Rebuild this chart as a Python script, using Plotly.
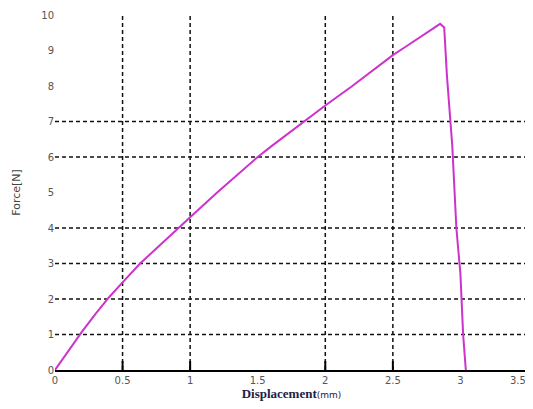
import plotly.graph_objects as go

# Curve data
displacement = [0, 0.1, 0.2, 0.3, 0.4, 0.5, 0.63, 0.8, 0.91, 1.0, 1.2, 1.4, 1.5, 1.6, 1.84, 2.0,
                2.2, 2.4, 2.5, 2.6, 2.7, 2.8, 2.85, 2.88, 2.9, 2.94, 2.97, 3.0, 3.02, 3.04]
force = [0, 0.55, 1.08, 1.58, 2.05, 2.47, 3.0, 3.6, 4.0, 4.3, 5.0, 5.68, 6.0, 6.3, 7.0, 7.45,
         8.0, 8.58, 8.87, 9.12, 9.38, 9.62, 9.75, 9.65, 8.3, 6.3, 4.0, 2.7, 1.0, 0]

x_ticks = [0, 0.5, 1, 1.5, 2, 2.5, 3, 3.5]
x_tick_labels = ["0", "0.5", "1", "1.5", "2", "2.5", "3", ""]
last_x_label = "3.5"
y_ticks = [0, 1, 2, 3, 4, 5, 6, 7, 8, 9, 10]
y_tick_labels = ["0", "1", "2", "3", "4", "5", "6", "7", "8", "9", "10"]

# Gridlines (and tick marks) visible in the reference
x_grid = [0.5, 1, 2, 2.5, 3.5]
y_grid = [1, 2, 3, 4, 6, 7]

fig = go.Figure()
fig.add_trace(go.Scatter(x=displacement, y=force, mode="lines",
                         line=dict(color="#cc33cc", width=2), showlegend=False))

shapes = []
for gx in x_grid:
    shapes.append(dict(type="line", xref="x", yref="y", x0=gx, x1=gx, y0=0, y1=10,
                       line=dict(color="#111111", width=1.5, dash="4px,3px"), layer="below"))
    shapes.append(dict(type="line", xref="x", yref="paper", x0=gx, x1=gx, y0=0, y1=0.025,
                       line=dict(color="black", width=2), layer="above"))
for gy in y_grid:
    shapes.append(dict(type="line", xref="x", yref="y", x0=0, x1=3.5, y0=gy, y1=gy,
                       line=dict(color="#111111", width=1.5, dash="4px,3px"), layer="below"))

fig.update_layout(
    width=533, height=409,
    margin=dict(l=47, r=13, t=7, b=47, autoexpand=False),
    paper_bgcolor="white", plot_bgcolor="white",
    shapes=shapes,
    font=dict(family="Liberation Serif", size=11, color="#444444"),
    annotations=[dict(x=x_ticks[-1], xref="x", y=0, yref="paper", yshift=-3,
                      text=last_x_label, showarrow=False, xanchor="right", yanchor="top",
                      font=dict(family="DejaVu Sans", size=10, color="#555555"))],
)
fig.update_xaxes(range=[0, 3.5], tickvals=x_ticks, ticktext=x_tick_labels, automargin=False,
                 showgrid=False, zeroline=False, showline=True, linecolor="black", linewidth=2,
                 ticks="",
                 tickfont=dict(family="DejaVu Sans", size=10, color="#555555"),
                 title=dict(text="<b>Displacement</b><span style='font-size:9px;font-family:DejaVu Sans'>(mm)</span>",
                            font=dict(family="Liberation Serif", size=13, color="#222244"), standoff=2))
fig.update_yaxes(range=[0, 10], tickvals=y_ticks, ticktext=y_tick_labels, automargin=False,
                 showgrid=False, zeroline=False, showline=False, ticks="",
                 tickfont=dict(family="DejaVu Sans", size=10, color="#555555"),
                 title=dict(text="Force[N]", font=dict(family="DejaVu Sans", size=11, color="#444444"),
                            standoff=18))

fig.write_html("out.html")
